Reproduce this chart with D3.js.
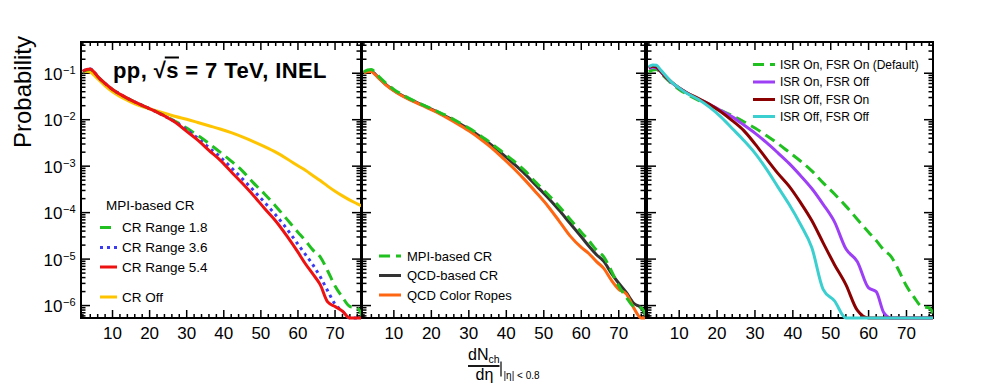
<!DOCTYPE html>
<html>
<head>
<meta charset="utf-8">
<script src="https://cdn.jsdelivr.net/npm/d3@7"></script>
<style>
  body { margin: 0; background: #fff; }
  svg text { font-family: "Liberation Sans", Arial, Helvetica, sans-serif; fill: #000; }
</style>
</head>
<body>
<svg id="chart" width="997" height="387"></svg>
<script>
// dNch/deta bins (|eta| < 0.8)
const nch = [2, 3, 4, 5, 6, 8, 10, 12, 15, 18, 21, 24, 27, 30, 33, 36, 39, 42, 45, 48, 51, 54, 57, 60, 62, 64, 66, 68, 70, 72, 74, 76, 77.5];

// MPI-based CR, range 1.8 (default tune, also "ISR On, FSR On")
const crRange18 = [1.07e-1, 1.17e-1, 1.20e-1, 1.05e-1, 8.51e-2, 6.03e-2, 4.47e-2, 3.55e-2, 2.63e-2, 2.04e-2, 1.58e-2, 1.23e-2, 9.12e-3, 6.61e-3, 4.57e-3, 3.09e-3, 2.00e-3, 1.29e-3, 7.94e-4, 4.37e-4, 2.51e-4, 1.38e-4, 7.24e-5, 3.80e-5, 2.51e-5, 1.58e-5, 1.12e-5, 5.62e-6, 2.63e-6, 1.51e-6, 9.55e-7, 8.91e-7, 0];
const crRange36 = [1.10e-1, 1.20e-1, 1.23e-1, 1.07e-1, 8.51e-2, 6.03e-2, 4.47e-2, 3.55e-2, 2.63e-2, 2.04e-2, 1.58e-2, 1.20e-2, 8.91e-3, 6.03e-3, 3.98e-3, 2.51e-3, 1.58e-3, 9.33e-4, 5.37e-4, 3.02e-4, 1.66e-4, 8.91e-5, 4.47e-5, 2.09e-5, 1.26e-5, 7.59e-6, 4.17e-6, 2.09e-6, 1.07e-6, 7.59e-7, 0, 0, 0];
const crRange54 = [1.10e-1, 1.20e-1, 1.23e-1, 1.07e-1, 8.51e-2, 6.03e-2, 4.47e-2, 3.55e-2, 2.63e-2, 2.04e-2, 1.58e-2, 1.20e-2, 8.71e-3, 5.62e-3, 3.63e-3, 2.19e-3, 1.35e-3, 7.59e-4, 4.27e-4, 2.34e-4, 1.23e-4, 6.61e-5, 3.16e-5, 1.41e-5, 7.94e-6, 4.79e-6, 2.82e-6, 1.20e-6, 9.55e-7, 7.59e-7, 0, 0, 0];
const crOff = [1.07e-1, 1.10e-1, 1.05e-1, 9.12e-2, 7.59e-2, 5.37e-2, 3.98e-2, 3.16e-2, 2.40e-2, 1.91e-2, 1.62e-2, 1.38e-2, 1.17e-2, 1.02e-2, 8.71e-3, 7.41e-3, 6.31e-3, 5.25e-3, 4.27e-3, 3.39e-3, 2.63e-3, 2.00e-3, 1.45e-3, 1.02e-3, 8.13e-4, 6.31e-4, 4.90e-4, 3.72e-4, 2.88e-4, 2.29e-4, 1.86e-4, 1.55e-4, 1.35e-4];

// QCD-based CR and rope hadronization
const qcdCR = [1.02e-1, 1.10e-1, 1.10e-1, 9.55e-2, 7.94e-2, 5.62e-2, 4.27e-2, 3.39e-2, 2.57e-2, 2.00e-2, 1.55e-2, 1.17e-2, 8.71e-3, 6.31e-3, 4.37e-3, 2.88e-3, 1.82e-3, 1.12e-3, 6.76e-4, 3.80e-4, 2.14e-4, 1.15e-4, 5.89e-5, 3.02e-5, 1.91e-5, 1.26e-5, 8.91e-6, 5.01e-6, 3.02e-6, 1.91e-6, 1.12e-6, 8.91e-7, 0];
const colorRopes = [1.02e-1, 1.07e-1, 1.07e-1, 9.33e-2, 7.76e-2, 5.50e-2, 4.17e-2, 3.31e-2, 2.51e-2, 1.95e-2, 1.51e-2, 1.12e-2, 8.13e-3, 5.75e-3, 3.89e-3, 2.51e-3, 1.51e-3, 8.91e-4, 5.01e-4, 2.69e-4, 1.41e-4, 6.76e-5, 3.16e-5, 1.78e-5, 1.32e-5, 8.91e-6, 6.31e-6, 3.55e-6, 2.24e-6, 1.78e-6, 8.91e-7, 0, 0];

// ISR / FSR switched off
const isrOnFsrOff = [1.26e-1, 1.35e-1, 1.29e-1, 1.10e-1, 8.91e-2, 6.31e-2, 4.79e-2, 3.80e-2, 2.82e-2, 2.14e-2, 1.58e-2, 1.15e-2, 7.76e-3, 5.13e-3, 3.24e-3, 1.95e-3, 1.15e-3, 6.31e-4, 3.31e-4, 1.51e-4, 6.31e-5, 1.66e-5, 8.91e-6, 2.40e-6, 2.00e-6, 7.08e-7, 0, 0, 0, 0, 0, 0, 0];
const isrOffFsrOn = [1.32e-1, 1.41e-1, 1.35e-1, 1.12e-1, 9.12e-2, 6.46e-2, 4.79e-2, 3.80e-2, 2.88e-2, 2.14e-2, 1.48e-2, 9.55e-3, 5.89e-3, 3.02e-3, 1.45e-3, 7.08e-4, 3.72e-4, 1.66e-4, 6.76e-5, 2.24e-5, 7.59e-6, 2.82e-6, 7.94e-7, 0, 0, 0, 0, 0, 0, 0, 0, 0, 0];
const isrOffFsrOff = [1.38e-1, 1.51e-1, 1.48e-1, 1.20e-1, 9.77e-2, 6.46e-2, 4.79e-2, 3.72e-2, 2.75e-2, 1.86e-2, 1.15e-2, 6.46e-3, 3.63e-3, 1.91e-3, 8.71e-4, 3.63e-4, 1.51e-4, 5.62e-5, 1.78e-5, 2.24e-6, 1.26e-6, 0, 0, 0, 0, 0, 0, 0, 0, 0, 0, 0, 0];

const xTickLabels = [10, 20, 30, 40, 50, 60, 70];
const yDecades = [-6, -5, -4, -3, -2, -1];

const svg = d3.select("#chart");
const frameTop = 42, frameBottom = 318;
const y = d3.scaleLog().domain([5.4e-7, 0.47]).range([frameBottom, frameTop]).clamp(true);

const style = {
  "CR Range 1.8": { color: "#20c020", dash: "11,6" },
  "CR Range 3.6": { color: "#3b3bf2", dash: "3,4" },
  "CR Range 5.4": { color: "#ee1111", dash: null },
  "CR Off": { color: "#ffc400", dash: null },
  "MPI-based CR": { color: "#20c020", dash: "11,6" },
  "QCD-based CR": { color: "#333333", dash: null },
  "QCD Color Ropes": { color: "#ff6611", dash: null },
  "ISR On, FSR On (Default)": { color: "#20c020", dash: "11,6" },
  "ISR On, FSR Off": { color: "#9d40f5", dash: null },
  "ISR Off, FSR On": { color: "#8b0000", dash: null },
  "ISR Off, FSR Off": { color: "#3ccfd0", dash: null }
};

const panels = [
  { x0: 81, x1: 361,
    series: [["CR Off", crOff], ["CR Range 1.8", crRange18], ["CR Range 3.6", crRange36], ["CR Range 5.4", crRange54]],
    legend: { header: "MPI-based CR", headerX: 106, headerY: 210, lineX: [100, 117], textX: 122, size: 13.5,
      rows: [["CR Range 1.8", 227.5], ["CR Range 3.6", 247.5], ["CR Range 5.4", 267], ["CR Off", 297]] } },
  { x0: 362, x1: 645,
    series: [["QCD-based CR", qcdCR], ["QCD Color Ropes", colorRopes], ["MPI-based CR", crRange18]],
    legend: { lineX: [379, 401], textX: 407, size: 13,
      rows: [["MPI-based CR", 256], ["QCD-based CR", 275.5], ["QCD Color Ropes", 295]] } },
  { x0: 647, x1: 933,
    series: [["ISR On, FSR On (Default)", crRange18], ["ISR On, FSR Off", isrOnFsrOff], ["ISR Off, FSR On", isrOffFsrOn], ["ISR Off, FSR Off", isrOffFsrOff]],
    legend: { lineX: [753, 775], textX: 780, size: 12,
      rows: [["ISR On, FSR On (Default)", 64.5], ["ISR On, FSR Off", 82], ["ISR Off, FSR On", 99.5], ["ISR Off, FSR Off", 116.5]] } }
];

panels.forEach((p, i) => {
  const x = d3.scaleLinear().domain([1.5, 77]).range([p.x0, p.x1]);
  const g = svg.append("g");

  // frame
  g.append("rect")
    .attr("x", p.x0).attr("y", frameTop)
    .attr("width", p.x1 - p.x0).attr("height", frameBottom - frameTop)
    .attr("fill", "none").attr("stroke", "#000").attr("stroke-width", 2);

  // ticks on all four sides
  const ticks = g.append("g").attr("stroke", "#000").attr("stroke-width", 1.5);
  d3.range(2, 77, 2).forEach(v => {
    const len = v % 10 === 0 ? 8 : 4;
    const px = x(v);
    ticks.append("line").attr("x1", px).attr("x2", px).attr("y1", frameBottom).attr("y2", frameBottom - len);
    ticks.append("line").attr("x1", px).attr("x2", px).attr("y1", frameTop).attr("y2", frameTop + len);
  });
  y.ticks().forEach(v => {
    const lg = Math.log10(v);
    const len = Math.abs(lg - Math.round(lg)) < 1e-6 ? 9 : 4.5;
    const py = y(v);
    ticks.append("line").attr("x1", p.x0).attr("x2", p.x0 + len).attr("y1", py).attr("y2", py);
    ticks.append("line").attr("x1", p.x1).attr("x2", p.x1 - len).attr("y1", py).attr("y2", py);
  });

  // x tick labels
  g.selectAll(".xl").data(xTickLabels).enter().append("text")
    .attr("x", d => x(d)).attr("y", 339)
    .attr("text-anchor", "middle").attr("font-size", 17)
    .text(d => d);

  // y tick labels (left panel only)
  if (i === 0) {
    yDecades.forEach(e => {
      const py = y(Math.pow(10, e));
      const sup = g.append("text").attr("x", 75.5).attr("y", py + 0.5)
        .attr("text-anchor", "end").attr("font-size", 11).text("\u2212" + (-e));
      const w = sup.node().getComputedTextLength();
      g.append("text").attr("x", 75.5 - w - 0.5).attr("y", py + 6.5)
        .attr("text-anchor", "end").attr("font-size", 17).text("10");
    });
  }

  // curves
  const clipId = "clip" + i;
  svg.append("clipPath").attr("id", clipId).append("rect")
    .attr("x", p.x0).attr("y", frameTop - 4)
    .attr("width", p.x1 - p.x0).attr("height", frameBottom - frameTop + 6);
  const line = d3.line()
    .x(d => x(d[0])).y(d => y(d[1]))
    .curve(d3.curveMonotoneX);
  const curves = g.append("g").attr("clip-path", `url(#${clipId})`);
  p.series.forEach(([name, values]) => {
    const s = style[name];
    curves.append("path")
      .datum(nch.map((n, k) => [n, values[k]]))
      .attr("d", line)
      .attr("fill", "none")
      .attr("stroke", s.color)
      .attr("stroke-width", 3)
      .attr("stroke-dasharray", s.dash)
      .attr("stroke-linejoin", "round");
  });

  // legend
  const lg = p.legend;
  if (lg.header) {
    g.append("text").attr("x", lg.headerX).attr("y", lg.headerY)
      .attr("font-size", lg.size).text(lg.header);
  }
  lg.rows.forEach(([name, cy]) => {
    const s = style[name];
    g.append("line")
      .attr("x1", lg.lineX[0]).attr("x2", lg.lineX[1]).attr("y1", cy).attr("y2", cy)
      .attr("stroke", s.color).attr("stroke-width", 3).attr("stroke-dasharray", s.dash);
    g.append("text").attr("x", lg.textX).attr("y", cy + lg.size * 0.36)
      .attr("font-size", lg.size).text(name);
  });
});

// collision label with sqrt(s) overline
const title = svg.append("text").attr("x", 113).attr("y", 78)
  .attr("font-size", 22).attr("font-weight", "bold")
  .attr("textLength", 213.5).attr("lengthAdjust", "spacing")
  .text("pp, \u221As = 7 TeV, INEL");
const rootBox = title.node().getExtentOfChar(4);
const sBox = title.node().getExtentOfChar(5);
svg.append("line")
  .attr("x1", rootBox.x + rootBox.width - 1).attr("x2", sBox.x + sBox.width + 0.5)
  .attr("y1", 57.5).attr("y2", 57.5)
  .attr("stroke", "#000").attr("stroke-width", 2);

// y axis title
svg.append("text")
  .attr("transform", "translate(30.5,36) rotate(-90)")
  .attr("text-anchor", "end").attr("font-size", 24)
  .text("Probability");

// x axis title: dNch/deta at |eta| < 0.8
const xt = svg.append("g");
xt.append("text").attr("x", 468).attr("y", 359.5).attr("font-size", 16).text("dN");
xt.append("text").attr("x", 488.5).attr("y", 363).attr("font-size", 10.5).text("ch");
xt.append("line").attr("x1", 468).attr("x2", 499.5).attr("y1", 366).attr("y2", 366)
  .attr("stroke", "#000").attr("stroke-width", 1.8);
xt.append("text").attr("x", 484.5).attr("y", 380).attr("text-anchor", "middle")
  .attr("font-size", 16).text("d\u03B7");
xt.append("line").attr("x1", 501).attr("x2", 501).attr("y1", 361.5).attr("y2", 376.5)
  .attr("stroke", "#000").attr("stroke-width", 1.2);
xt.append("text").attr("x", 503.5).attr("y", 379).attr("font-size", 10).text("|\u03B7| < 0.8");
</script>
</body>
</html>
